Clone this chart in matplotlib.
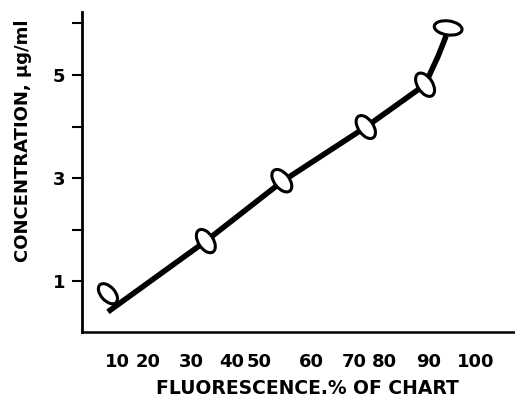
import matplotlib
matplotlib.use("Agg")
import matplotlib.pyplot as plt
from matplotlib.patches import Ellipse
from matplotlib.transforms import ScaledTranslation

# curve (fluorescence %, concentration ug/ml)
curve_x = [7.5, 32.1, 51.2, 72.3, 87.2, 88.9, 90.4, 91.7, 92.5]
curve_y = [0.41, 1.78, 2.93, 3.99, 4.81, 5.10, 5.35, 5.60, 5.76]

# the little ellipse markers sitting on the curve
pt_x = [7.5, 32.1, 51.2, 72.3, 87.2, 93.0]
pt_y = [0.76, 1.78, 2.95, 3.99, 4.81, 5.91]

x_labels = ['10', '20', '30', '40', '50', '60', '70', '80', '90', '100']
# where the hand lettered labels actually sit along the axis
x_label_at = [10, 17.5, 28.4, 38.7, 45.4, 58.5, 69.3, 77.1, 88.2, 100]
y_ticks = [1, 2, 3, 4, 5, 6]
y_labels = ['1', '', '3', '', '5', '']

# ellipse shape in pixels: width, height, angle
ell_shape = [(24, 14, -48), (26, 15, -57), (26, 15, -52),
             (26, 15, -55), (26, 15, -57), (28, 14, -8)]

plt.rcParams['font.family'] = ['DejaVu Sans']
plt.rcParams['font.weight'] = 'bold'

fig = plt.figure(figsize=(5.15, 3.98), dpi=100)
ax = fig.add_axes([0.159, 0.166, 0.841, 0.804])

ax.plot(curve_x, curve_y, color='black', lw=4.0, solid_capstyle='butt',
        solid_joinstyle='round', zorder=2)

for (x, y), (w, h, a) in zip(zip(pt_x, pt_y), ell_shape):
    tr = fig.dpi_scale_trans + ScaledTranslation(x, y, ax.transData)
    e = Ellipse((0, 0), w / 100, h / 100, angle=a, transform=tr,
                facecolor='white', edgecolor='black', lw=2.2, zorder=3,
                clip_on=False)
    ax.add_artist(e)

ax.set_xlim(0.95, 109.8)
ax.set_ylim(0.02, 6.22)

ax.spines['top'].set_visible(False)
ax.spines['right'].set_visible(False)
ax.spines['left'].set_linewidth(2)
ax.spines['bottom'].set_linewidth(1.8)

ax.set_xticks(x_label_at)
ax.set_xticklabels(x_labels, fontsize=13, fontweight='bold')
ax.tick_params(axis='x', length=0, pad=15)
ax.set_yticks(y_ticks)
ax.set_yticklabels(y_labels, fontsize=13, fontweight='bold')
ax.tick_params(axis='y', length=7, width=1.5, pad=5)

ax.set_xlabel('FLUORESCENCE.% OF CHART', fontsize=13.5, fontweight='bold')
ax.xaxis.set_label_coords(0.52, -0.148)
ax.set_ylabel('CONCENTRATION, \u03bcg/ml', fontsize=13, fontweight='bold')
ax.yaxis.set_label_coords(-0.115, 0.597)

fig.savefig('out.png', dpi=100)
